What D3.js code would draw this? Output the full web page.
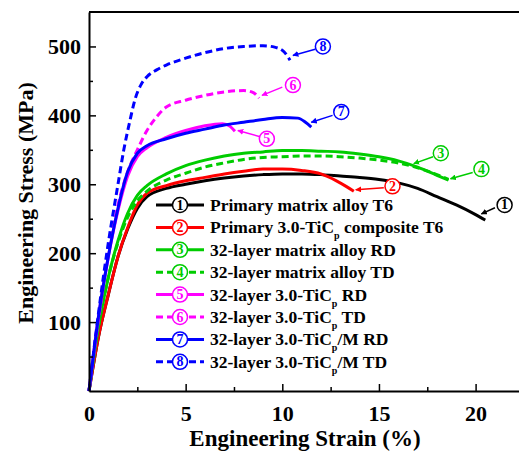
<!DOCTYPE html>
<html>
  <head>
    <meta charset="utf-8">
    <script type="text/javascript" src="https://cdn.jsdelivr.net/npm/d3@7/dist/d3.min.js"></script>
    <style type="text/css">
      body { margin: 0; background: #fff; }
      svg { display: block; }
      text { font-family: "Liberation Serif", "DejaVu Serif", Times, serif; font-weight: bold; }
    </style>
  </head>
  <body>
    <script type="text/javascript">
      // curve data: strain (%) and stress (MPa)
      var strain1 = [0, 0.5, 1, 1.5, 2, 2.5, 3, 4, 5, 6, 7, 8, 9, 10, 11, 12, 13, 14, 15, 16, 17, 18, 19, 20, 20.5];
      var stress1 = [0, 80, 140, 195, 235, 265, 282, 294, 300, 305, 309, 312, 314, 315, 315, 314, 312, 310, 307, 302, 294, 282, 270, 256, 248];

      var strain2 = [0, 0.5, 1, 1.5, 2, 2.5, 3, 4, 5, 6, 7, 8, 9, 10, 11, 12, 12.8, 13.3, 13.7];
      var stress2 = [0, 80, 140, 195, 237, 270, 287, 298, 305, 310, 315, 319, 322, 322, 320, 315, 305, 297, 290];

      var strain3 = [0, 0.5, 1, 1.5, 2, 2.5, 3, 4, 5, 6, 7, 8, 9, 10, 11, 12, 13, 14, 15, 16, 17, 18, 18.6];
      var stress3 = [0, 95, 165, 218, 258, 284, 298, 315, 327, 335, 341, 345, 347, 349, 349, 348, 347, 344, 340, 334, 325, 313, 306];

      var strain4 = [0, 0.5, 1, 1.5, 2, 2.5, 3, 4, 5, 6, 7, 8, 9, 10, 11, 12, 13, 14, 15, 16, 17, 18, 18.6];
      var stress4 = [0, 95, 165, 215, 252, 276, 290, 306, 316, 325, 331, 336, 339, 340, 341, 341, 340, 338, 335, 331, 324, 314, 307];

      var strain5 = [0, 0.5, 1, 1.5, 2, 2.5, 3, 4, 5, 6, 6.9, 7.3, 7.55];
      var stress5 = [0, 110, 195, 262, 312, 340, 353, 368, 378, 385, 388, 384, 377];

      var strain6 = [0, 0.5, 1, 1.5, 2, 2.5, 3, 3.5, 4, 5, 6, 7, 8, 8.5, 8.8];
      var stress6 = [0, 105, 200, 270, 318, 350, 378, 398, 412, 422, 429, 434, 436, 433, 425];

      var strain7 = [0, 0.5, 1, 1.5, 2, 2.5, 3, 4, 5, 6, 7, 8, 9, 10, 10.8, 11.2, 11.5];
      var stress7 = [0, 110, 195, 265, 318, 345, 356, 366, 374, 380, 386, 390, 394, 397, 396, 390, 383];

      var strain8 = [0, 0.5, 1, 1.5, 1.8, 2.1, 2.4, 2.7, 3, 3.5, 4, 5, 6, 7, 8, 9, 9.6, 10.1, 10.4];
      var stress8 = [0, 115, 215, 300, 350, 390, 425, 445, 456, 466, 473, 483, 491, 497, 500, 501, 499, 492, 480];

      var curveNames = ["Primary matrix alloy T6", "Primary 3.0-TiC|p| composite T6",
                        "32-layer matrix alloy RD", "32-layer matrix alloy TD",
                        "32-layer 3.0-TiC|p| RD", "32-layer 3.0-TiC|p| TD",
                        "32-layer 3.0-TiC|p|/M RD", "32-layer 3.0-TiC|p|/M TD"];
      var curveColors = ["#000000", "#ff0000", "#00cc00", "#00cc00", "#ff00ff", "#ff00ff", "#0000ff", "#0000ff"];
      var curveDashed = [false, false, false, true, false, true, false, true];

      var xTicks = [0, 5, 10, 15, 20];
      var xMinor = [2.5, 7.5, 12.5, 17.5];
      var yTicks = [100, 200, 300, 400, 500];
      var yMinor = [50, 150, 250, 350, 450];

      // callout label: circle centre and arrow (from, tip) in data units
      var calloutCircle = [[21.5, 270], [15.7, 297], [18.2, 345], [20.3, 322], [9.2, 366], [10.55, 444], [13.05, 405], [12.1, 500]];
      var calloutFrom = [[21.0, 266], [15.25, 295], [17.8, 340], [19.85, 317], [8.85, 369], [10.0, 441], [12.6, 400], [11.7, 496]];
      var calloutTip = [[20.3, 257], [13.8, 292], [16.8, 330], [18.7, 308], [7.7, 378], [8.95, 429], [11.5, 390], [10.55, 487]];

      var series = [
        [strain1, stress1], [strain2, stress2], [strain3, stress3], [strain4, stress4],
        [strain5, stress5], [strain6, stress6], [strain7, stress7], [strain8, stress8]
      ].map(function(s) {
        return s[0].map(function(x, i) { return { x: x, y: s[1][i] }; });
      });

      var serif = "'Liberation Serif', 'DejaVu Serif', Times, serif";
      var width = 519, height = 451;
      var svg = d3.select("body").append("svg")
        .attr("width", width)
        .attr("height", height)
        .attr("font-family", serif);

      var xScale = d3.scaleLinear().domain([0, 22.5]).range([89, 89 + 19.33 * 22.5]);
      var yScale = d3.scaleLinear().domain([0, 550]).range([391, 12]);

      // arrow head marker for each colour
      var defs = svg.append("defs");
      curveColors.forEach(function(c, i) {
        defs.append("marker")
          .attr("id", "arrow" + i)
          .attr("viewBox", "0 0 10 10")
          .attr("refX", 9).attr("refY", 5)
          .attr("markerWidth", 4).attr("markerHeight", 4)
          .attr("orient", "auto")
          .append("path")
          .attr("d", "M0,0 L10,5 L0,10 z")
          .attr("fill", c);
      });

      var line = d3.line()
        .x(function(d) { return xScale(d.x); })
        .y(function(d) { return yScale(d.y); })
        .curve(d3.curveMonotoneX);

      // curves
      series.forEach(function(s, i) {
        svg.append("path")
          .datum(s)
          .attr("d", line)
          .attr("fill", "none")
          .attr("stroke", curveColors[i])
          .attr("stroke-width", 3)
          .attr("stroke-dasharray", curveDashed[i] ? "7,4" : null);
      });

      // frame: top line
      svg.append("line")
        .attr("x1", xScale(0)).attr("x2", width)
        .attr("y1", yScale(550)).attr("y2", yScale(550))
        .attr("stroke", "black").attr("stroke-width", 2);

      // axes with inward ticks
      var xAxis = svg.append("g")
        .attr("transform", "translate(0," + yScale(0) + ")")
        .call(d3.axisBottom(xScale).tickValues(xTicks).tickSizeInner(-7).tickSizeOuter(0).tickPadding(14));
      svg.append("g")
        .attr("transform", "translate(0," + yScale(0) + ")")
        .call(d3.axisBottom(xScale).tickValues(xMinor).tickSizeInner(-4).tickSizeOuter(0).tickFormat(""))
        .select(".domain").remove();

      var yAxis = svg.append("g")
        .attr("transform", "translate(" + xScale(0) + ",0)")
        .call(d3.axisLeft(yScale).tickValues(yTicks).tickSizeInner(-7).tickSizeOuter(0).tickPadding(8));
      svg.append("g")
        .attr("transform", "translate(" + xScale(0) + ",0)")
        .call(d3.axisLeft(yScale).tickValues(yMinor).tickSizeInner(-4).tickSizeOuter(0).tickFormat(""))
        .select(".domain").remove();

      svg.selectAll("g").attr("font-family", serif);
      svg.selectAll(".domain").attr("stroke-width", 2);
      svg.selectAll(".tick line").attr("stroke-width", 1.5);
      svg.selectAll(".tick text")
        .attr("font-family", serif)
        .attr("font-weight", "bold")
        .attr("font-size", 22)
        .attr("fill", "black");
      xAxis.selectAll(".tick text").attr("dy", "0.71em");

      // axis titles
      svg.append("text")
        .attr("x", 305).attr("y", 446)
        .attr("text-anchor", "middle")
        .attr("font-size", 23)
        .text("Engineering Strain (%)");

      svg.append("text")
        .attr("transform", "translate(33,203)rotate(-90)")
        .attr("text-anchor", "middle")
        .attr("font-size", 22)
        .text("Engineering Stress (MPa)");

      // circled number
      function circled(g, cx, cy, n, color) {
        g.append("circle")
          .attr("cx", cx).attr("cy", cy).attr("r", 7.5)
          .attr("fill", "white")
          .attr("stroke", color).attr("stroke-width", 1.5);
        g.append("text")
          .attr("x", cx).attr("y", cy + 4.5)
          .attr("text-anchor", "middle")
          .attr("font-size", 14)
          .attr("font-weight", "normal")
          .attr("fill", color)
          .text(n);
      }

      // label text with subscript parts between bars
      function richText(t, str) {
        str.split("|").forEach(function(part, k) {
          if (k % 2 === 1) {
            t.append("tspan").attr("baseline-shift", "sub").attr("font-size", 10).text(part);
          } else {
            t.append("tspan").text(part);
          }
        });
      }

      // callouts on the curves
      var callouts = svg.append("g");
      calloutCircle.forEach(function(c, i) {
        callouts.append("line")
          .attr("x1", xScale(calloutFrom[i][0])).attr("y1", yScale(calloutFrom[i][1]))
          .attr("x2", xScale(calloutTip[i][0])).attr("y2", yScale(calloutTip[i][1]))
          .attr("stroke", curveColors[i]).attr("stroke-width", 1.5)
          .attr("marker-end", "url(#arrow" + i + ")");
        circled(callouts, xScale(c[0]), yScale(c[1]), i + 1, curveColors[i]);
      });

      // legend
      var legend = svg.append("g");
      curveNames.forEach(function(name, i) {
        var yy = 205 + i * 22.4;
        legend.append("line")
          .attr("x1", 156).attr("x2", 204)
          .attr("y1", yy).attr("y2", yy)
          .attr("stroke", curveColors[i]).attr("stroke-width", 3)
          .attr("stroke-dasharray", curveDashed[i] ? "7,4" : null);
        circled(legend, 180, yy, i + 1, curveColors[i]);
        var t = legend.append("text")
          .attr("x", 210).attr("y", yy + 6)
          .attr("font-size", 17.5)
          .attr("fill", "black");
        richText(t, name);
      });
    </script>
  </body>
</html>
